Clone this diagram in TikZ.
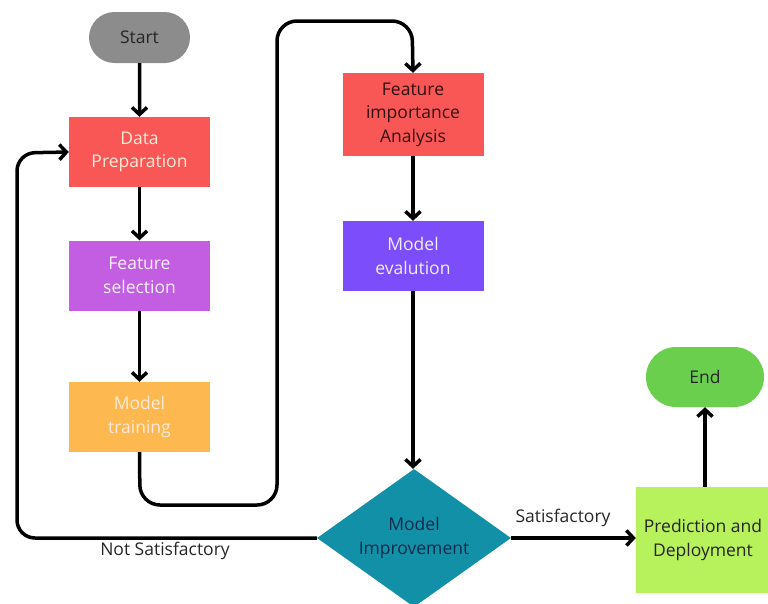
\documentclass[tikz,border=0pt]{standalone}
\usepackage{fontspec}
\setmainfont{Open Sans}
\usetikzlibrary{arrows.meta,shapes.geometric,shapes.misc}
\definecolor{cgray}{HTML}{8C8C8C}
\definecolor{cred}{HTML}{F95656}
\definecolor{cpurple}{HTML}{C35DE2}
\definecolor{corange}{HTML}{FDB84F}
\definecolor{cviolet}{HTML}{7C4DFB}
\definecolor{cteal}{HTML}{1190A8}
\definecolor{clime}{HTML}{B7F15C}
\definecolor{cgreen}{HTML}{6BCF4E}
\definecolor{ccream}{HTML}{FFEBD8}
\definecolor{cnavy}{HTML}{0E2A4A}
\tikzset{
  txt/.style={font=\fontsize{17.5}{23.5}\selectfont, align=center},
  box/.style={txt, rectangle, minimum width=141pt, minimum height=70pt, inner sep=1pt},
  term/.style={txt, rounded rectangle, inner sep=2pt},
  flow/.style={line width=3.5pt, -{Straight Barb[length=7pt,width=15pt,line width=3.5pt]}},
  lbl/.style={font=\fontsize{17.5}{21}\selectfont, text=black!85}
}
\begin{document}
\begin{tikzpicture}[x=1pt,y=-1pt]
\useasboundingbox (0,0) rectangle (768,603);

\node[term, fill=cgray, minimum width=105pt, minimum height=51pt, text=black!85] (start) at (139.5,37.5) {Start};
\node[box, fill=cred, text=ccream] (prep) at (139.5,152) {Data\\Preparation};
\node[box, fill=cpurple, text=white!92!cpurple] (sel) at (139.5,275.5) {Feature\\selection};
\node[box, fill=corange, text=ccream] (train) at (139.5,417) {Model\\training};
\node[box, fill=cred, minimum height=83pt, text=black!80!cred] (imp) at (413,114.5) {Feature\\importance\\Analysis};
\node[box, fill=cviolet, text=white!90!cviolet] (eval) at (413,256) {Model\\evalution};
\node[txt, diamond, aspect=1.4, fill=cteal, text=cnavy, minimum width=194pt, minimum height=138pt, inner sep=-4pt] (impr) at (414,538) {Model\\Improvement};
\node[box, fill=clime, minimum width=134pt, minimum height=106pt, text=black!85] (dep) at (703,540) {Prediction and\\Deployment};
\node[term, fill=cgreen, minimum width=122pt, minimum height=60pt, text=black!85] (end) at (705,377) {End};

\coordinate (c1) at (140,505);
\coordinate (c2) at (277,505);
\coordinate (c3) at (277,21);
\coordinate (c4) at (412,21);
\coordinate (l1) at (17,538);
\coordinate (l2) at (17,153);

\draw[flow] (start) -- (prep);
\draw[flow] (prep) -- (sel);
\draw[flow] (sel) -- (train);
\draw[flow, rounded corners=20pt] (train.south) -- (c1) -- (c2) -- (c3) -- (c4) -- (imp.north);
\draw[flow] (imp) -- (eval);
\draw[flow] (eval.south) -- (eval.south |- impr.north);
\draw[flow, rounded corners=18pt] (impr.west) -- (l1) -- (l2) -- (prep.west);
\draw[flow] (impr.east) -- (dep.west |- impr.east);
\draw[flow] (dep.north -| end.south) -- (end.south);

\node[lbl] (ns) at (165,551) {Not Satisfactory};
\node[lbl] (sat) at (563,518) {Satisfactory};
\end{tikzpicture}
\end{document}
